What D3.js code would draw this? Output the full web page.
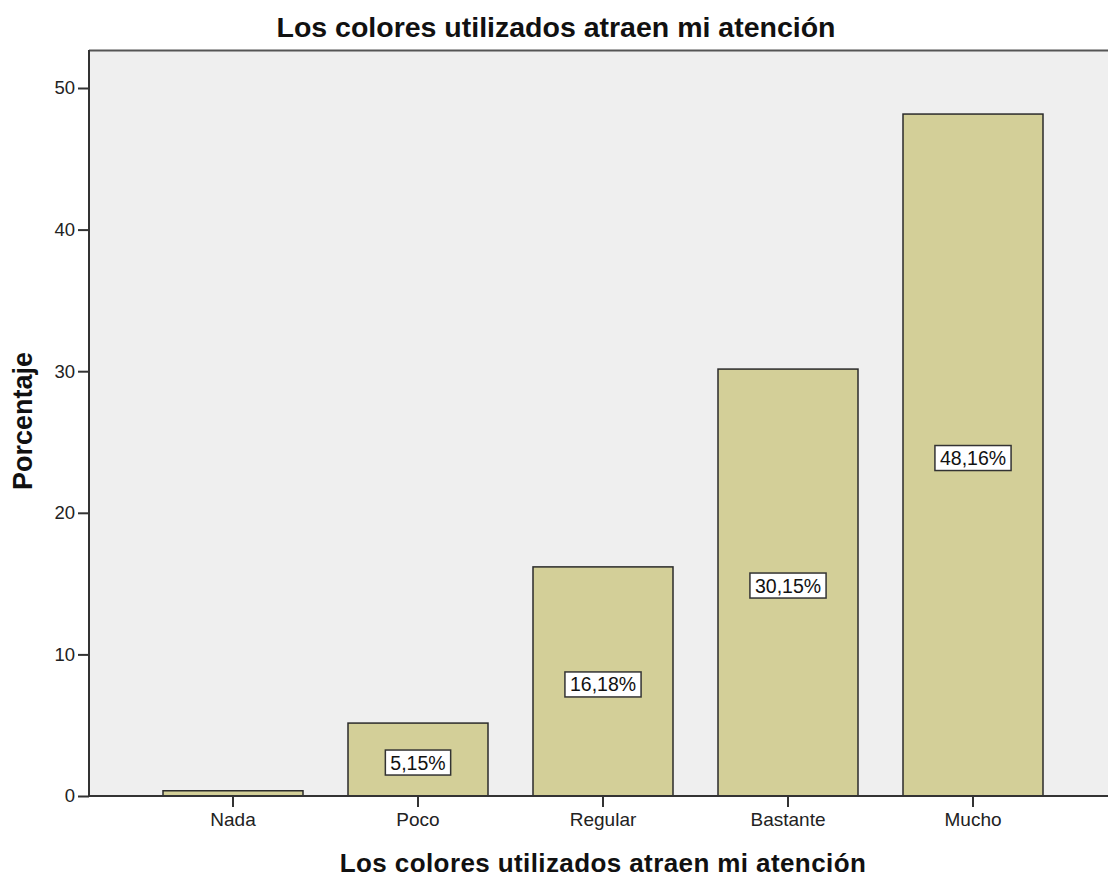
<!DOCTYPE html>
<html>
<head>
<meta charset="utf-8">
<script src="https://cdn.jsdelivr.net/npm/d3@7"></script>
<style>
  body { margin: 0; background: #fff; }
  text { font-family: "Liberation Sans", Arial, sans-serif; }
</style>
</head>
<body>
<svg id="chart" width="1108" height="877"></svg>
<script>
let categories = ["Nada", "Poco", "Regular", "Bastante", "Mucho"];
let percents = [0.37, 5.15, 16.18, 30.15, 48.16];
let labels = ["", "5,15%", "16,18%", "30,15%", "48,16%"];
let yTicks = [0, 10, 20, 30, 40, 50];

let width = 1108, height = 877;
let svg = d3.select("#chart");

let scales = {
  x: d3.scaleBand().domain(categories).range([89, 1117]).paddingInner(45/185).paddingOuter(74/185),
  y: d3.scaleLinear().domain([0, 50]).range([796, 88])
};

// plot background
svg.append("rect")
  .attr("x", 89).attr("y", 50)
  .attr("width", width - 89).attr("height", 796 - 50)
  .style("fill", "#efefef");

svg.append("line")
  .attr("x1", 89).attr("x2", width).attr("y1", 50.5).attr("y2", 50.5)
  .style("stroke", "#555").style("stroke-width", 2);

// bars
svg.selectAll(".bar")
  .data(categories)
  .enter()
  .append("rect")
  .attr("class", "bar")
  .attr("x", d => scales.x(d))
  .attr("width", scales.x.bandwidth())
  .attr("y", (d, i) => scales.y(percents[i]))
  .attr("height", (d, i) => scales.y(0) - scales.y(percents[i]))
  .style("fill", "#d3cf98")
  .style("stroke", "#2b2b2b")
  .style("stroke-width", 1.5);

// value labels
categories.forEach(function(cat, i){
  if(labels[i] == "") return;
  let cx = scales.x(cat) + scales.x.bandwidth()/2;
  let cy = (scales.y(percents[i]) + scales.y(0))/2 + 3;
  let g = svg.append("g").attr("transform", "translate(" + cx + "," + cy + ")");
  let t = g.append("text")
    .attr("text-anchor", "middle")
    .attr("dy", "0.36em")
    .style("font-size", "19.5px")
    .style("fill", "#111")
    .text(labels[i]);
  let w = t.node().getComputedTextLength() + 10;
  g.insert("rect", "text")
    .attr("x", -w/2).attr("y", -12.5)
    .attr("width", w).attr("height", 25)
    .style("fill", "#fff")
    .style("stroke", "#333")
    .style("stroke-width", 1.5);
});

// y axis
let yAxis = svg.append("g")
  .attr("transform", "translate(89,0)")
  .call(d3.axisLeft(scales.y).tickValues(yTicks).tickSize(11).tickPadding(3));
yAxis.select(".domain").attr("d", "M0,50V796").style("stroke", "#333").style("stroke-width", 2);
yAxis.selectAll(".tick line").style("stroke", "#333").style("stroke-width", 2);
yAxis.selectAll(".tick text").style("font-size", "18.5px").style("fill", "#222")
  .style("font-family", "'Liberation Sans', Arial, sans-serif");

// x axis
let xAxis = svg.append("g")
  .attr("transform", "translate(0,796)")
  .call(d3.axisBottom(scales.x).tickSize(11).tickPadding(6));
xAxis.select(".domain").attr("d", "M89,0H" + width).style("stroke", "#333").style("stroke-width", 2);
xAxis.selectAll(".tick line").style("stroke", "#333").style("stroke-width", 2);
xAxis.selectAll(".tick text").style("font-size", "19px").style("fill", "#222")
  .style("font-family", "'Liberation Sans', Arial, sans-serif");

// titles
svg.append("text")
  .attr("x", 556).attr("y", 37)
  .attr("text-anchor", "middle")
  .style("font-size", "28.5px").style("font-weight", "bold").style("fill", "#111")
  .text("Los colores utilizados atraen mi atención");

svg.append("text")
  .attr("x", 603).attr("y", 872)
  .attr("text-anchor", "middle")
  .style("font-size", "26px").style("font-weight", "bold").style("fill", "#111")
  .style("letter-spacing", "0.4px")
  .text("Los colores utilizados atraen mi atención");

svg.append("text")
  .attr("transform", "translate(32,421) rotate(-90)")
  .attr("text-anchor", "middle")
  .style("font-size", "27px").style("font-weight", "bold").style("fill", "#111")
  .text("Porcentaje");
</script>
</body>
</html>
